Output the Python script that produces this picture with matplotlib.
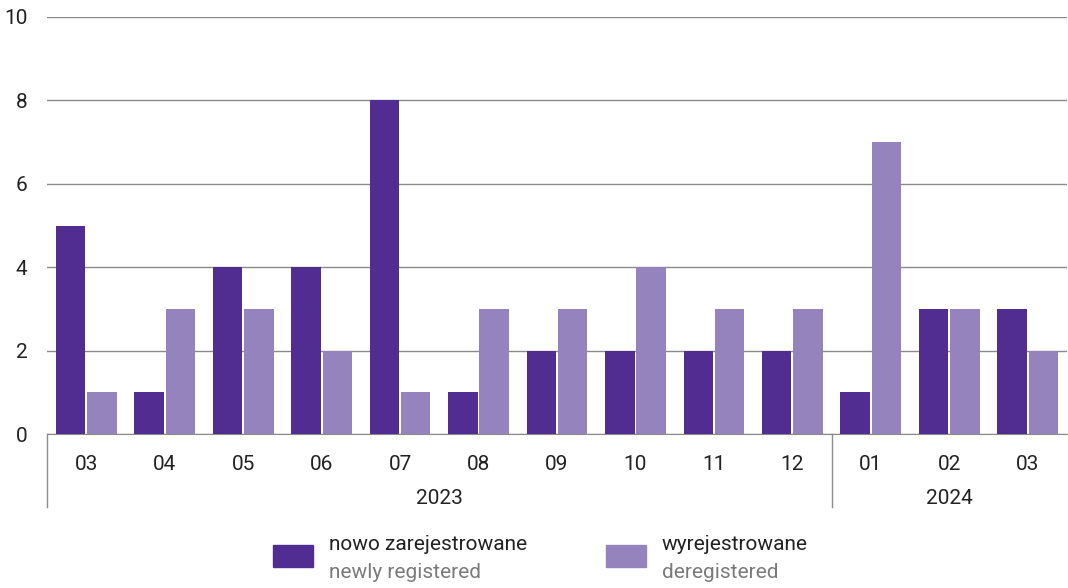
import matplotlib.pyplot as plt
import matplotlib.transforms as mtransforms
from matplotlib.patches import Rectangle
import numpy as np

plt.rcParams['font.family'] = ['Roboto', 'DejaVu Sans']

months = ['03', '04', '05', '06', '07', '08', '09', '10', '11', '12', '01', '02', '03']
years = ['2023', '2024']
year_counts = [10, 3]
newly = [5, 1, 4, 4, 8, 1, 2, 2, 2, 2, 1, 3, 3]
dereg = [1, 3, 3, 2, 1, 3, 3, 4, 3, 3, 7, 3, 2]
labels_pl = ['nowo zarejestrowane', 'wyrejestrowane']
labels_en = ['newly registered', 'deregistered']

c_dark = '#522d91'
c_light = '#9583bd'
c_grid = '#8a8a8a'
fs = 15

fig = plt.figure(figsize=(10.68, 5.88), dpi=100)
ax = fig.add_axes([47 / 1068, 154 / 588, 1020 / 1068, 417 / 588])

x = np.arange(len(months))
w = 0.375
ax.bar(x - w / 2 - 0.012, newly, width=w, color=c_dark, zorder=3)
ax.bar(x + w / 2 + 0.012, dereg, width=w, color=c_light, zorder=3)

ax.set_xlim(-0.5, len(months) - 0.5)
ax.set_ylim(0, 10)
ax.set_yticks([0, 2, 4, 6, 8, 10])
ax.yaxis.grid(True, color=c_grid, linewidth=1)
ax.set_axisbelow(True)
for s in ['top', 'right', 'left']:
    ax.spines[s].set_visible(False)
ax.spines['bottom'].set_color(c_grid)
ax.tick_params(axis='y', length=0, labelsize=fs, pad=14, colors='#222222')
ax.tick_params(axis='x', length=0, labelsize=fs, pad=15, colors='#222222')
ax.set_xticks(x)
ax.set_xticklabels(months)

# year labels and separators
trans = mtransforms.blended_transform_factory(ax.transData, ax.transAxes)
start = 0
seps = [-0.5]
for yr, n in zip(years, year_counts):
    mid = start + (n - 1) / 2
    ax.text(mid, -0.155, yr, transform=trans, ha='center', va='center',
            fontsize=fs, color='#222222')
    start += n
    seps.append(start - 0.5)
for sx in seps[:-1]:
    ax.plot([sx, sx], [0, -0.175], transform=trans, color=c_grid,
            linewidth=1, clip_on=False)

# legend
legend_items = [(273, c_dark, 0), (606, c_light, 1)]
for px, col, i in legend_items:
    fig.add_artist(Rectangle((px / 1068, (588 - 567) / 588), 40 / 1068, 22 / 588,
                             transform=fig.transFigure, color=col))
    fig.text((px + 56) / 1068, (588 - 545) / 588, labels_pl[i], fontsize=fs,
             color='#222222', va='center')
    fig.text((px + 56) / 1068, (588 - 573) / 588, labels_en[i], fontsize=fs,
             color='#7a7a7a', va='center')

plt.savefig('out.png', dpi=100)
